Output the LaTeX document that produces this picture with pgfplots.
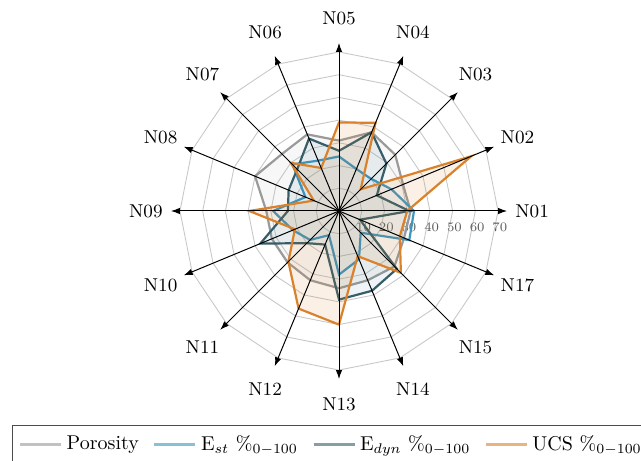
\documentclass[border=0pt]{standalone}
\usepackage{pgfplots}
\usepackage{pgfplotstable}
\pgfplotsset{compat=1.18}
\usetikzlibrary{arrows.meta}

\definecolor{porcol}{HTML}{9A9A9A}
\definecolor{estcol}{HTML}{3E95BF}
\definecolor{dyncol}{HTML}{375E68}
\definecolor{ucscol}{HTML}{D9822B}
\definecolor{gridc}{HTML}{C8C8C8}

% spoke angle (deg) and normalised value (0-100); rows N01 ... N15, N17
\pgfplotstableread{
ang val
0     31.5
22.5  30.5
45    35
67.5  37.5
90    31
112.5 36.5
135   35.5
157.5 40
180   32
202.5 32
225   32
247.5 33
270   34
292.5 33
315   34.5
337.5 31
}\porosity

\pgfplotstableread{
ang val
0     33
22.5  25
45    20
67.5  20
90    24
112.5 24
135   29
157.5 16
180   29
202.5 22
225   18
247.5 11.5
270   28
292.5 23
315   13.5
337.5 33.5
}\estat

\pgfplotstableread{
ang val
0     31
22.5  18
45    29.5
67.5  37.5
90    26.5
112.5 34.5
135   26
157.5 24
180   22.5
202.5 37.5
225   20
247.5 16
270   39
292.5 38
315   36
337.5 10
}\edyn

\pgfplotstableread{
ang val
0     30
22.5  63
45    13.5
67.5  42
90    39
112.5 20.5
135   30
157.5 12
180   39.5
202.5 21
225   31.5
247.5 46.5
270   50
292.5 21.5
315   38.5
337.5 29
}\ucs

\begin{document}
\begin{tikzpicture}
\begin{axis}[
  x=1.136pt, y=1.136pt,
  xmin=-90, xmax=90, ymin=-90, ymax=90,
  hide axis, clip=false,
  data cs=polar,
  legend columns=4,
  legend style={
    at={(axis cs:-143.9,-94.2)}, anchor=north west,
    draw=black!70, line width=0.5pt,
    font=\fontsize{10}{12}\selectfont,
    inner xsep=3pt, inner ysep=3pt,
    /tikz/every even column/.append style={column sep=5pt},
  },
  legend image code/.code={%
    \draw[#1, draw opacity=0.6, line width=1.6pt]
      (0cm,0cm) -- (0.72cm,0cm);},
]
  % web of the chart: polygons every 10 units
  \pgfplotsinvokeforeach{10,20,30,40,50,60,70}{
    \draw[gridc, line width=0.45pt]
      (axis cs:#1,0)
      \foreach \a in {22.5,45,67.5,90,112.5,135,157.5,180,202.5,225,247.5,270,292.5,315,337.5}
        { -- (axis cs:{#1*cos(\a)},{#1*sin(\a)}) } -- cycle;
    \node[font=\fontsize{6.5}{7}\selectfont, text=black!65]
      at (axis cs:#1+0.8,-7) {#1};
  }

  \addplot[porcol, line width=1.1pt, fill=porcol, fill opacity=0.08]
    table[x=ang, y=val] {\porosity} -- cycle;
  \addlegendentry{Porosity}
  \addplot[estcol, line width=1.1pt, fill=estcol, fill opacity=0.05]
    table[x=ang, y=val] {\estat} -- cycle;
  \addlegendentry{E$_{st}$ \%$_{0-100}$}
  \addplot[dyncol, line width=1.1pt, fill=estcol!55!dyncol, fill opacity=0.09]
    table[x=ang, y=val] {\edyn} -- cycle;
  \addlegendentry{E$_{dyn}$ \%$_{0-100}$}
  \addplot[ucscol, line width=1.1pt, fill=ucscol, fill opacity=0.12]
    table[x=ang, y=val] {\ucs} -- cycle;
  \addlegendentry{UCS \%$_{0-100}$}

  % spokes
  \pgfplotsinvokeforeach{0,22.5,45,67.5,90,112.5,135,157.5,180,202.5,225,247.5,270,292.5,315,337.5}{
    \draw[black, line width=0.5pt, -{Latex[length=4.5pt,width=3.2pt]}]
      (axis cs:0,0) -- (axis cs:{74*cos(#1)},{74*sin(#1)});
  }

  % sample names
  \pgfplotsforeachungrouped \n/\a in {N01/0,N02/22.5,N03/45,N04/67.5,N05/90,N06/112.5,N07/135,N08/157.5,N09/180,N10/202.5,N11/225,N12/247.5,N13/270,N14/292.5,N15/315,N17/337.5}{
    \edef\temp{\noexpand\node[font=\noexpand\fontsize{9.3}{11}\noexpand\selectfont]
      at (axis cs:{85*cos(\a)},{85*sin(\a)}) {\n};}
    \temp
  }
  \coordinate (c) at (axis cs:0,0);
\end{axis}
\pgfresetboundingbox
\path (c) ++(-169.5pt,-124.5pt) rectangle ++(320.5pt,230pt);
\end{tikzpicture}
\end{document}
